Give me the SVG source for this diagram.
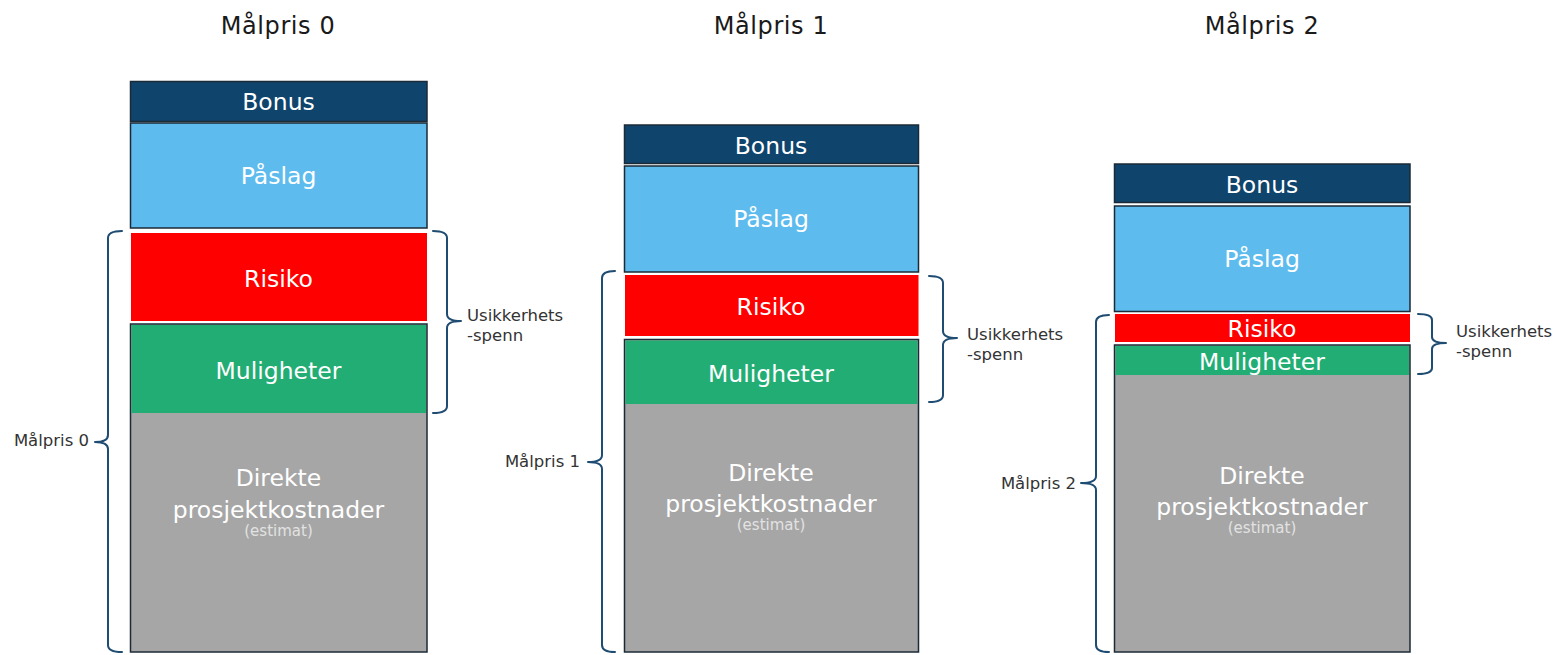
<svg xmlns="http://www.w3.org/2000/svg" width="1563" height="655" viewBox="0 0 1563 655">
  <defs>
    <style>
      .title { font-family: "DejaVu Sans", Verdana, sans-serif; font-size: 24px; fill: #1a1a1a; text-anchor: middle; letter-spacing: 0.6px; }
      .seg-label { font-family: "DejaVu Sans", Verdana, sans-serif; font-size: 23.5px; fill: #ffffff; text-anchor: middle; }
      .small { font-family: "DejaVu Sans", Verdana, sans-serif; font-size: 15px; fill: #e2e2e2; text-anchor: middle; }
      .side { font-family: "DejaVu Sans", Verdana, sans-serif; font-size: 16.5px; fill: #333333; }
      .bonus { fill: #0f446d; stroke: #1b2a36; stroke-width: 1.5; }
      .paslag { fill: #5dbbee; stroke: #1b2a36; stroke-width: 1.5; }
      .risiko { fill: #ff0000; }
      .direkte { fill: #a6a6a6; stroke: #1b2a36; stroke-width: 1.5; }
      .muligheter { fill: #22ad74; }
      .brace { fill: none; stroke: #1f4c72; stroke-width: 2; stroke-linejoin: round; stroke-linecap: round; }
    </style>
  </defs>
  <rect width="1563" height="655" fill="#ffffff"/>

  <!-- column titles -->
  <text class="title" x="278" y="34">Målpris 0</text>
  <text class="title" x="771" y="34">Målpris 1</text>
  <text class="title" x="1262" y="34">Målpris 2</text>

  <!-- Målpris 0 stack -->
  <g id="mp0">
    <g id="mp0-bonus">
      <rect class="bonus" x="130.5" y="81.5" width="296.5" height="40"/>
      <text class="seg-label" x="278.5" y="110">Bonus</text>
    </g>
    <g id="mp0-paslag">
      <rect class="paslag" x="130.5" y="123" width="296.5" height="105"/>
      <text class="seg-label" x="278.5" y="184">Påslag</text>
    </g>
    <g id="mp0-risiko">
      <rect class="risiko" x="131" y="233" width="296" height="88"/>
      <text class="seg-label" x="278.5" y="287">Risiko</text>
    </g>
    <g id="mp0-direkte">
      <rect class="direkte" x="130.5" y="324" width="296.5" height="328"/>
      <text class="seg-label" x="278.5" y="486">Direkte</text>
      <text class="seg-label" x="278.5" y="518">prosjektkostnader</text>
      <text class="small" x="278.5" y="536">(estimat)</text>
    </g>
    <g id="mp0-muligheter">
      <rect class="muligheter" x="131.5" y="325" width="294.5" height="88"/>
      <text class="seg-label" x="278.5" y="379">Muligheter</text>
    </g>
  </g>

  <!-- Målpris 1 stack -->
  <g id="mp1">
    <g id="mp1-bonus">
      <rect class="bonus" x="624.5" y="125" width="294" height="38.5"/>
      <text class="seg-label" x="771" y="154">Bonus</text>
    </g>
    <g id="mp1-paslag">
      <rect class="paslag" x="624.5" y="166" width="294" height="106"/>
      <text class="seg-label" x="771" y="227">Påslag</text>
    </g>
    <g id="mp1-risiko">
      <rect class="risiko" x="625" y="275" width="293.5" height="61"/>
      <text class="seg-label" x="771" y="315">Risiko</text>
    </g>
    <g id="mp1-direkte">
      <rect class="direkte" x="624.5" y="339.5" width="294" height="312.5"/>
      <text class="seg-label" x="771" y="481">Direkte</text>
      <text class="seg-label" x="771" y="512">prosjektkostnader</text>
      <text class="small" x="771" y="530">(estimat)</text>
    </g>
    <g id="mp1-muligheter">
      <rect class="muligheter" x="625.5" y="340.5" width="292" height="63.5"/>
      <text class="seg-label" x="771" y="382">Muligheter</text>
    </g>
  </g>

  <!-- Målpris 2 stack -->
  <g id="mp2">
    <g id="mp2-bonus">
      <rect class="bonus" x="1114.5" y="164" width="295.5" height="38.5"/>
      <text class="seg-label" x="1262" y="193">Bonus</text>
    </g>
    <g id="mp2-paslag">
      <rect class="paslag" x="1114.5" y="206" width="295.5" height="105.5"/>
      <text class="seg-label" x="1262" y="267">Påslag</text>
    </g>
    <g id="mp2-risiko">
      <rect class="risiko" x="1115" y="314" width="295" height="28"/>
      <text class="seg-label" x="1262" y="337">Risiko</text>
    </g>
    <g id="mp2-direkte">
      <rect class="direkte" x="1114.5" y="345" width="295.5" height="307"/>
      <text class="seg-label" x="1262" y="484">Direkte</text>
      <text class="seg-label" x="1262" y="515">prosjektkostnader</text>
      <text class="small" x="1262" y="533">(estimat)</text>
    </g>
    <g id="mp2-muligheter">
      <rect class="muligheter" x="1115.5" y="346" width="293.5" height="29"/>
      <text class="seg-label" x="1262" y="370">Muligheter</text>
    </g>
  </g>

  <!-- braces -->
  <g id="connectors">
    <path class="brace" d="M122,231 Q108,231 108,238 V435 Q108,442 95,442 M95,442 Q108,442 108,449 V645 Q108,652 122,652"/>
    <path class="brace" d="M433,231 Q447,231 447,238 V314 Q447,321 461,321 M461,321 Q447,321 447,328 V406 Q447,413 433,413"/>

    <path class="brace" d="M615,271 Q602,271 602,278 V455 Q602,462 588,462 M588,462 Q602,462 602,469 V645 Q602,652 615,652"/>
    <path class="brace" d="M929,276 Q943,276 943,283 V331 Q943,338 957,338 M957,338 Q943,338 943,345 V395 Q943,402 929,402"/>

    <path class="brace" d="M1109,315 Q1096,315 1096,322 V476 Q1096,483 1081,483 M1081,483 Q1096,483 1096,490 V645 Q1096,652 1109,652"/>
    <path class="brace" d="M1418,314 Q1432,314 1432,320 V337 Q1432,343 1446,343 M1446,343 Q1432,343 1432,349 V368 Q1432,374 1418,374"/>
  </g>

  <!-- side labels -->
  <g id="labels">
    <text class="side" x="89" y="446" text-anchor="end">Målpris 0</text>
    <text class="side" x="467" y="321">Usikkerhets</text>
    <text class="side" x="467" y="341">-spenn</text>

    <text class="side" x="580" y="467" text-anchor="end">Målpris 1</text>
    <text class="side" x="967" y="340">Usikkerhets</text>
    <text class="side" x="967" y="360">-spenn</text>

    <text class="side" x="1076" y="489" text-anchor="end">Målpris 2</text>
    <text class="side" x="1456" y="337">Usikkerhets</text>
    <text class="side" x="1456" y="357">-spenn</text>
  </g>
</svg>
